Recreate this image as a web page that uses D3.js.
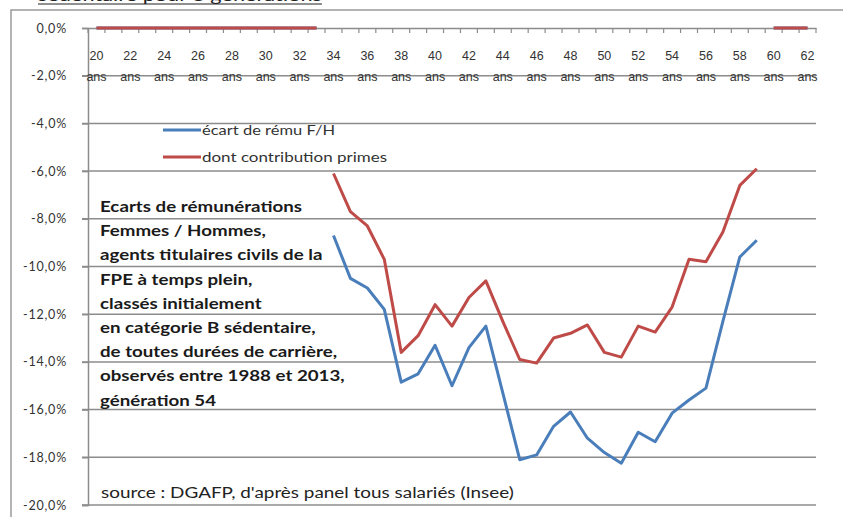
<!DOCTYPE html>
<html lang="fr">
<head>
<meta charset="UTF-8">
<title>Ecarts de rémunérations F/H</title>
<script src="https://cdn.jsdelivr.net/npm/d3@7"></script>
<style>
  body { margin: 0; background: #fff; }
  svg { font-family: Lato, "Open Sans", sans-serif; }
  .grid line { stroke: #8c8c8c; stroke-width: 1.5; }
  .serie { fill: none; stroke-width: 3; stroke-linejoin: round; }
</style>
</head>
<body>
<svg id="chart" width="843" height="517"></svg>
<script>
// ages 20 .. 62 ans
const ages = d3.range(20, 63);
// écart de rému F/H (en %), 0 hors période observée
const ecart = [0,0,0,0,0,0,0,0,0,0,0,0,0,0,
  -8.7,-10.5,-10.9,-11.8,-14.85,-14.5,-13.3,-15.0,-13.4,-12.5,-15.3,-18.1,-17.9,
  -16.7,-16.1,-17.2,-17.8,-18.25,-16.95,-17.35,-16.15,-15.6,-15.1,-12.3,-9.6,-8.9,
  0,0,0];
// dont contribution primes
const primes = [0,0,0,0,0,0,0,0,0,0,0,0,0,0,
  -6.1,-7.7,-8.3,-9.7,-13.6,-12.9,-11.6,-12.5,-11.3,-10.6,-12.3,-13.9,-14.05,
  -13.0,-12.8,-12.45,-13.6,-13.8,-12.5,-12.75,-11.7,-9.7,-9.8,-8.55,-6.6,-5.9,
  0,0,0];
const yTicks = d3.range(0, -20.1, -2);
const legendLabels = ["écart de rému F/H", "dont contribution primes"];
const couleurs = ["#4a7ebb", "#be4b48"];
const noteLines = [
  "Ecarts de rémunérations",
  "Femmes / Hommes,",
  "agents titulaires civils de la",
  "FPE à temps plein,",
  "classés initialement",
  "en catégorie B sédentaire,",
  "de toutes durées de carrière,",
  "observés entre 1988 et 2013,",
  "génération 54"
];

const svg = d3.select("#chart");

// cadre + titre coupé en haut
svg.append("path").attr("d", "M11,517V10H843").attr("fill", "none")
  .attr("stroke", "#9a9a9a").attr("stroke-width", 1.5);
svg.append("text").attr("x", 38).attr("y", 1).attr("font-size", 15)
  .attr("textLength", 284).attr("lengthAdjust", "spacingAndGlyphs")
  .attr("fill", "#222").text("sédentaire pour 3 générations");
svg.append("line").attr("x1", 38).attr("x2", 322).attr("y1", 4).attr("y2", 4)
  .attr("stroke", "#222").attr("stroke-width", 1.2);

const x = d3.scaleBand().domain(ages).range([88, 816]);
const y = d3.scaleLinear().domain([-20, 0]).range([505, 28]);

// grille horizontale
svg.append("g").attr("class", "grid").selectAll("line")
  .data(yTicks.filter(d => d !== 0)).join("line")
  .attr("x1", 82).attr("x2", 816)
  .attr("y1", d => y(d)).attr("y2", d => y(d));

// axe Y
const fmt = d => d3.format(".1f")(d).replace(".", ",").replace("−", "-") + "%";
const yAxis = svg.append("g").attr("transform", "translate(88,0)")
  .call(d3.axisLeft(y).tickValues(yTicks).tickFormat(fmt).tickSize(6).tickPadding(15));
yAxis.select(".domain").attr("stroke", "#8c8c8c").attr("stroke-width", 1.5);
yAxis.selectAll(".tick line").attr("stroke", "#8c8c8c").attr("stroke-width", 1.5);
yAxis.selectAll("text").attr("font-size", 12.5).attr("fill", "#333")
  .attr("letter-spacing", 0.8).attr("font-family", "Lato, sans-serif");

// axe X sur la ligne 0
const xAxis = svg.append("g").attr("transform", `translate(0,${y(0)})`)
  .call(d3.axisBottom(x).tickSize(0).tickFormat(""));
xAxis.select(".domain").attr("stroke", "#8c8c8c").attr("stroke-width", 1.5);
xAxis.selectAll(".tick").remove();
xAxis.selectAll("line.sep").data(ages.concat([63])).join("line").attr("class", "sep")
  .attr("x1", (d, i) => 88 + i * x.bandwidth()).attr("x2", (d, i) => 88 + i * x.bandwidth())
  .attr("y1", 0).attr("y2", 5).attr("stroke", "#8c8c8c").attr("stroke-width", 1.2);
const lab = xAxis.selectAll("text.lab").data(ages.filter(a => a % 2 === 0)).join("text")
  .attr("class", "lab").attr("text-anchor", "middle").attr("font-size", 12.5).attr("fill", "#333");
lab.append("tspan").attr("x", d => x(d) + x.bandwidth() / 2).attr("y", 32).text(d => d);
lab.append("tspan").attr("x", d => x(d) + x.bandwidth() / 2).attr("y", 53).text("ans");

// séries : segments continus séparés entre zones nulles et zones observées
function segments(vals) {
  const segs = [];
  let cur = [];
  vals.forEach((v, i) => {
    if (cur.length && (cur[cur.length - 1].v === 0) !== (v === 0)) { segs.push(cur); cur = []; }
    cur.push({ a: ages[i], v: v });
  });
  segs.push(cur);
  return segs;
}
const line = d3.line().x(d => x(d.a) + x.bandwidth() / 2).y(d => y(d.v));
[ecart, primes].forEach((vals, k) => {
  svg.append("g").selectAll("path").data(segments(vals)).join("path")
    .attr("class", "serie").attr("stroke", couleurs[k]).attr("d", line);
});

// légende
const legendWidths = [133, 185];
legendLabels.forEach((t, k) => {
  const ly = 130 + k * 27;
  svg.append("line").attr("x1", 163).attr("x2", 201).attr("y1", ly).attr("y2", ly)
    .attr("stroke", couleurs[k]).attr("stroke-width", 3);
  svg.append("text").attr("x", 202).attr("y", ly + 4.5).attr("font-size", 13.5)
    .attr("textLength", legendWidths[k]).attr("lengthAdjust", "spacingAndGlyphs")
    .attr("fill", "#333").text(t);
});

// bloc de texte (étiré horizontalement comme l'image d'origine)
svg.append("g").selectAll("text").data(noteLines).join("text")
  .attr("transform", (d, i) => `translate(100,${212 + i * 24.2}) scale(1.17,1)`)
  .attr("font-size", 16).attr("font-weight", "bold").attr("fill", "#1a1a1a")
  .text(d => d);

svg.append("text").attr("transform", "translate(101,498) scale(1.26,1)")
  .attr("font-size", 15).attr("fill", "#222")
  .text("source : DGAFP, d'après panel tous salariés (Insee)");
</script>
</body>
</html>
